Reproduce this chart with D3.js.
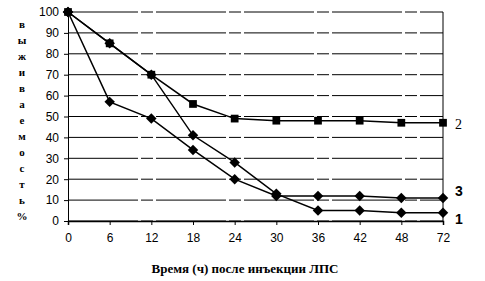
<!DOCTYPE html>
<html>
<head>
<meta charset="utf-8">
<script src="https://cdn.jsdelivr.net/npm/d3@7"></script>
<style>
  body { margin: 0; background: #fff; }
  .tick text { font-family: "Liberation Sans", Arial, sans-serif; font-size: 12px; fill: #000; }
</style>
</head>
<body>
<div id="chart"></div>
<script>
var hours = ["0", "6", "12", "18", "24", "30", "36", "42", "48", "72"];
var series1 = [100, 85, 70, 41, 28, 13, 5, 5, 4, 4];
var series2 = [100, 85, 70, 56, 49, 48, 48, 48, 47, 47];
var series3 = [100, 57, 49, 34, 20, 12, 12, 12, 11, 11];
var yTicks = [0, 10, 20, 30, 40, 50, 60, 70, 80, 90, 100];
var yTitle = "выживаемость%";
var xTitle = "Время (ч) после инъекции ЛПС";

var margin = { top: 12, right: 42, bottom: 60, left: 68 },
  width = 485 - margin.left - margin.right,
  height = 281 - margin.top - margin.bottom;

var svg = d3.select("#chart").append("svg")
  .attr("width", 485)
  .attr("height", 281);

var g = svg.append("g")
  .attr("transform", "translate(" + margin.left + "," + margin.top + ")");

var x = d3.scalePoint().domain(hours).range([0, width]);
var y = d3.scaleLinear().domain([0, 100]).range([height, 0]);

// horizontal grid
g.append("g").selectAll("line")
  .data(yTicks)
  .enter().append("line")
  .attr("x1", 0).attr("x2", width)
  .attr("y1", function (d) { return y(d); })
  .attr("y2", function (d) { return y(d); })
  .attr("stroke", "#000")
  .attr("stroke-width", 1)
  .attr("stroke-dasharray", "70,3,12,3");

// right border
g.append("line")
  .attr("x1", width).attr("x2", width)
  .attr("y1", y(100)).attr("y2", y(0))
  .attr("stroke", "#000");

var yAxis = d3.axisLeft(y).tickValues(yTicks).tickSize(4).tickPadding(5);
g.append("g").call(yAxis).select(".domain").attr("stroke", "#000");

var xAxis = d3.axisBottom(x).tickSize(4).tickPadding(8);
g.append("g")
  .attr("transform", "translate(0," + height + ")")
  .call(xAxis)
  .select(".domain").attr("stroke-width", 1.5);

var line = d3.line()
  .x(function (d, i) { return x(hours[i]); })
  .y(function (d) { return y(d); });

[series1, series2, series3].forEach(function (s) {
  g.append("path")
    .datum(s)
    .attr("fill", "none")
    .attr("stroke", "#000")
    .attr("stroke-width", 1.5)
    .attr("d", line);
});

// diamonds for 1 and 3
[series1, series3].forEach(function (s) {
  g.append("g").selectAll("path")
    .data(s)
    .enter().append("path")
    .attr("transform", function (d, i) {
      return "translate(" + x(hours[i]) + "," + y(d) + ") rotate(45)";
    })
    .attr("d", d3.symbol().type(d3.symbolSquare).size(55))
    .attr("fill", "#000");
});

// squares for 2
g.append("g").selectAll("path")
  .data(series2)
  .enter().append("path")
  .attr("transform", function (d, i) {
    return "translate(" + x(hours[i]) + "," + y(d) + ")";
  })
  .attr("d", d3.symbol().type(d3.symbolSquare).size(60))
  .attr("fill", "#000");

// series labels
var labels = [
  { t: "2", v: series2[9], font: "Liberation Serif", w: "normal", dy: 1 },
  { t: "3", v: series3[9], font: "Liberation Sans", w: "bold", dy: -7 },
  { t: "1", v: series1[9], font: "Liberation Sans", w: "bold", dy: 6 }
];
g.append("g").selectAll("text")
  .data(labels)
  .enter().append("text")
  .attr("x", width + 12)
  .attr("y", function (d) { return y(d.v) + d.dy; })
  .attr("dy", "0.35em")
  .attr("font-family", function (d) { return d.font; })
  .attr("font-weight", function (d) { return d.w; })
  .attr("font-size", 14)
  .text(function (d) { return d.t; });

// vertical y title, one letter per line
svg.append("g").selectAll("text")
  .data(yTitle.split(""))
  .enter().append("text")
  .attr("x", 22)
  .attr("y", function (d, i) { return 28 + i * 16; })
  .attr("text-anchor", "middle")
  .attr("font-family", "Liberation Serif")
  .attr("font-weight", "bold")
  .attr("font-size", 11)
  .text(function (d) { return d; });

svg.append("text")
  .attr("x", 245)
  .attr("y", 273)
  .attr("text-anchor", "middle")
  .attr("font-family", "Liberation Serif")
  .attr("font-weight", "bold")
  .attr("font-size", 13)
  .text(xTitle);
</script>
</body>
</html>
